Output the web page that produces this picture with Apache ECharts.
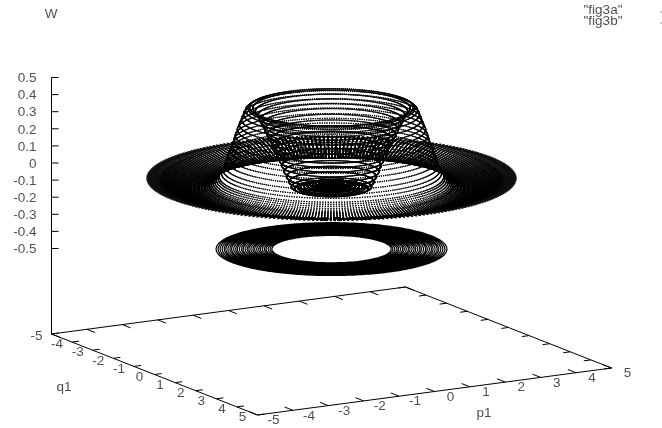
<!DOCTYPE html>
<html>
<head>
<meta charset="utf-8">
<title>fig3</title>
<script src="https://cdn.jsdelivr.net/npm/echarts@6/dist/echarts.min.js"></script>
<style>
    html, body { margin: 0; padding: 0; background: #fff; }
    #grafico { width: 662px; height: 428px; }
</style>
</head>
<body>
<div id="grafico"></div>
<script>
// axis ticks
var qTicks = [-5, -4, -3, -2, -1, 0, 1, 2, 3, 4, 5];
var pTicks = [-5, -4, -3, -2, -1, 0, 1, 2, 3, 4, 5];
var wTicks = [0.5, 0.4, 0.3, 0.2, 0.1, 0, -0.1, -0.2, -0.3, -0.4, -0.5];
var wTickLabels = ['0.5', '0.4', '0.3', '0.2', '0.1', '0', '-0.1', '-0.2', '-0.3', '-0.4', '-0.5'];
var wBase = -1;

// fig3a: radius of each ring and its height W
var humpRadius = [0.08, 0.15, 0.22, 0.30, 0.38, 0.45, 0.52, 0.60, 0.67, 0.75, 0.82, 0.90, 0.98, 1.04, 1.10, 1.16, 1.215, 1.275, 1.335, 1.39, 1.45, 1.51, 1.57, 1.63, 1.69, 1.75, 1.80, 1.86, 1.92,
    2.00, 2.04, 2.10, 2.15, 2.20, 2.25, 2.30, 2.35, 2.39, 2.44, 2.48, 2.53, 2.57, 2.61, 2.65, 2.69, 2.74, 2.77, 2.81, 2.85, 2.89, 2.93, 2.97];
var humpW = [-0.004, -0.008, -0.012, -0.016, -0.02, -0.024, -0.028, -0.032, -0.036, -0.041, -0.045, -0.049, -0.04, -0.01, 0.02, 0.05, 0.085, 0.115, 0.145, 0.175, 0.205, 0.235, 0.265, 0.295, 0.325, 0.35, 0.375, 0.40, 0.42,
    0.425, 0.42, 0.408, 0.385, 0.355, 0.325, 0.295, 0.26, 0.23, 0.20, 0.175, 0.145, 0.115, 0.085, 0.06, 0.04, 0.02, 0.01, 0, -0.01, -0.018, -0.024, -0.028];
var rimRadius = [3.00, 3.04, 3.08, 3.11, 3.15, 3.18, 3.22, 3.25, 3.28, 3.32, 3.35, 3.38, 3.42, 3.45, 3.48, 3.51, 3.54, 3.57, 3.60, 3.63, 3.66, 3.69, 3.72, 3.75, 3.78, 3.81, 3.84, 3.87, 3.90,
    3.92, 3.95, 3.98, 4.01, 4.04, 4.06, 4.09, 4.12, 4.14, 4.17];
var rimW = [-0.03, -0.033, -0.037, -0.04, -0.043, -0.045, -0.047, -0.048, -0.048, -0.048, -0.047, -0.046, -0.045, -0.044, -0.042, -0.04, -0.038, -0.036, -0.034, -0.032, -0.03, -0.028, -0.026, -0.024, -0.022, -0.02, -0.018, -0.016, -0.014,
    -0.012, -0.01, -0.008, -0.006, -0.004, -0.002, 0, 0.002, 0.003, 0.004];
var edgeRadius = [4.20, 4.22, 4.25, 4.27, 4.30, 4.32, 4.35, 4.37, 4.40, 4.42, 4.45, 4.47, 4.50];
var edgeW = [0.005, 0.006, 0.007, 0.008, 0.009, 0.01, 0.01, 0.01, 0.01, 0.01, 0.01, 0.01, 0.01];
var angleSteps = 260;

// fig3b: flat band under the surface
var bandRadius = [1.46, 1.50, 1.55, 1.60, 1.64, 1.69, 1.74, 1.78, 1.83, 1.88, 1.92, 1.97, 2.02, 2.06, 2.11, 2.16, 2.20, 2.25, 2.30, 2.34, 2.39, 2.44, 2.48, 2.53, 2.58, 2.62, 2.67, 2.72, 2.77, 2.82];
var bandW = -0.404;

// view of the box on the page
var centre = [331.5, 351];
var qStep = [20.6, 8.1];
var pStep = [35.4, -4.7];
var wStep = 171;

function project(q, p, w) {
    return [
        centre[0] + q * qStep[0] + p * pStep[0],
        centre[1] + q * qStep[1] + p * pStep[1] - (w - wBase) * wStep
    ];
}

function shift(pt, dx, dy) {
    return [pt[0] + dx, pt[1] + dy];
}

function buildRings(radius, height) {
    var pts = [];
    radius.forEach(function(r, i) {
        for (var j = 0; j < angleSteps; j++) {
            var a = 2 * Math.PI * j / angleSteps;
            pts.push(project(r * Math.cos(a), r * Math.sin(a), height[i]));
        }
    });
    return pts;
}

function buildBand() {
    var pts = [];
    bandRadius.forEach(function(r) {
        for (var j = 0; j <= angleSteps; j++) {
            var a = 2 * Math.PI * j / angleSteps;
            pts.push(project(r * Math.cos(a), r * Math.sin(a), bandW));
        }
        pts.push([NaN, NaN]);
    });
    return pts;
}

function buildBox() {
    var pts = [];
    function seg(a, b) {
        pts.push(a, b, [NaN, NaN]);
    }
    // base and W axis
    seg(project(-5, -5, wBase), project(5, -5, wBase));
    seg(project(5, -5, wBase), project(5, 5, wBase));
    seg(project(5, 5, wBase), project(-5, 5, wBase));
    seg(project(-5, 5, wBase), project(-5, -5, wBase));
    seg(project(-5, -5, wBase), project(-5, -5, wTicks[0]));
    // ticks
    pTicks.forEach(function(p) {
        seg(project(5, p, wBase), project(4.6, p, wBase));
        seg(project(-5, p, wBase), project(-4.6, p, wBase));
    });
    qTicks.forEach(function(q) {
        seg(project(q, -5, wBase), project(q, -4.8, wBase));
        seg(project(q, 5, wBase), project(q, 4.8, wBase));
    });
    wTicks.forEach(function(w) {
        var a = project(-5, -5, w);
        seg(a, shift(a, 7, 0));
    });
    return pts;
}

function textPoint(name, pt, align) {
    return {
        name: name,
        value: pt,
        label: { align: align || 'center' }
    };
}

function buildLabels() {
    var out = [];
    wTicks.forEach(function(w, i) {
        out.push(textPoint(wTickLabels[i], shift(project(-5, -5, w), -15, 1), 'right'));
    });
    qTicks.forEach(function(q) {
        out.push(textPoint(String(q), shift(project(q, -5, wBase), -15, 2.5)));
    });
    pTicks.forEach(function(p) {
        out.push(textPoint(String(p), shift(project(5, p, wBase), 16, 5.5)));
    });
    out.push(textPoint('W', [51, 14]));
    out.push(textPoint('q1', [64, 387]));
    out.push(textPoint('p1', [484, 413]));
    out.push(textPoint('"fig3a"', [603, 10]));
    out.push(textPoint('"fig3b"', [603, 21]));
    return out;
}

function dotSeries(name, data, size) {
    return {
        name: name,
        type: 'scatter',
        data: data,
        symbol: 'rect',
        symbolSize: size,
        large: true,
        largeThreshold: 500,
        silent: true,
        itemStyle: { color: '#000' }
    };
}

var chartDom = document.getElementById('grafico');
var myChart = echarts.init(chartDom);
var option;

option = {
    animation: false,
    backgroundColor: '#fff',
    grid: { left: 0, right: 0, top: 0, bottom: 0 },
    xAxis: { type: 'value', min: 0, max: 662, show: false },
    yAxis: { type: 'value', min: 0, max: 428, inverse: true, show: false },
    series: [{
            name: 'box',
            type: 'line',
            data: buildBox(),
            showSymbol: false,
            connectNulls: false,
            silent: true,
            lineStyle: { color: '#000', width: 1 }
        },
        {
            name: 'fig3b',
            type: 'line',
            data: buildBand(),
            showSymbol: false,
            connectNulls: false,
            silent: true,
            lineStyle: { color: '#000', width: 1.2 }
        },
        dotSeries('fig3a hump', buildRings(humpRadius, humpW), 1.1),
        dotSeries('fig3a rim', buildRings(rimRadius, rimW), 1.2),
        dotSeries('fig3a edge', buildRings(edgeRadius, edgeW), 1.6),
        {
            name: 'legend dots',
            type: 'scatter',
            data: [[661, 12], [661, 23]],
            symbol: 'rect',
            symbolSize: 1,
            silent: true,
            itemStyle: { color: '#000' }
        },
        {
            name: 'labels',
            type: 'scatter',
            data: buildLabels(),
            symbolSize: 0,
            silent: true,
            label: {
                show: true,
                position: 'inside',
                formatter: '{b}',
                fontFamily: 'Liberation Sans',
                fontSize: 13.5,
                color: '#222',
                verticalAlign: 'middle'
            }
        }
    ]
};
option && myChart.setOption(option);
</script>
</body>
</html>
